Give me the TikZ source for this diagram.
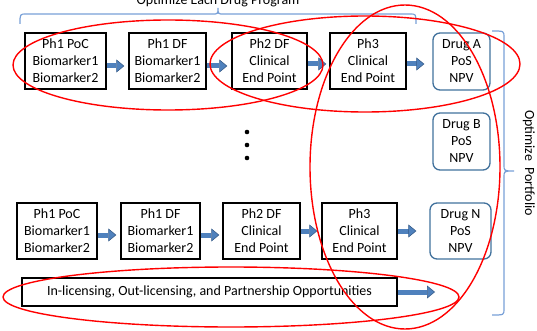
\documentclass[tikz,border=0pt]{standalone}
\usepackage{fontspec}
\setmainfont{Carlito}
\usetikzlibrary{arrows.meta}
\definecolor{arrowfill}{RGB}{79,129,189}
\definecolor{arrowedge}{RGB}{56,93,138}
\definecolor{drugedge}{RGB}{65,113,156}
\definecolor{bracecol}{RGB}{120,160,215}
\begin{document}
\begin{tikzpicture}[x=1pt,y=-1pt,
  every node/.style={font=\fontsize{14}{17}\selectfont},
  stagebox/.style={draw=black, line width=1.4pt, align=center, minimum height=56pt, inner sep=0pt},
  drugbox/.style={draw=drugedge, line width=1.3pt, rounded corners=7pt, align=center, minimum width=57pt, minimum height=57pt, inner sep=0pt},
  fatarrow/.style={draw=arrowfill, line width=5pt, -{Triangle[length=8pt,width=13pt,color=arrowedge,fill=arrowfill,line width=0.6pt]}},
  ring/.style={draw=red, line width=1.4pt},
  bracepath/.style={draw=bracecol, line width=1.2pt}]
\useasboundingbox (0,0) rectangle (537,331);

% top row
\node[stagebox, minimum width=81pt] (a1) at (65.5,61) {Ph1 PoC\\Biomarker1\\Biomarker2};
\node[stagebox, minimum width=77pt] (a2) at (167.5,61) {Ph1 DF\\Biomarker1\\Biomarker2};
\node[stagebox, minimum width=75pt] (a3) at (269.5,61) {Ph2 DF\\Clinical\\End Point};
\node[stagebox, minimum width=76pt] (a4) at (368,61) {Ph3\\Clinical\\End Point};
\node[drugbox] (da) at (461.5,61.5) {Drug A\\PoS\\NPV};

% middle
\node[drugbox] (db) at (461.5,141.5) {Drug B\\PoS\\NPV};
\node[circle, fill=black, inner sep=0pt, minimum size=4.6pt] (d1) at (247,132) {};
\node[circle, fill=black, inner sep=0pt, minimum size=4.6pt] (d2) at (247,145) {};
\node[circle, fill=black, inner sep=0pt, minimum size=4.6pt] (d3) at (247,158) {};

% bottom row
\node[stagebox, minimum width=80pt] (b1) at (57,231) {Ph1 PoC\\Biomarker1\\Biomarker2};
\node[stagebox, minimum width=79pt] (b2) at (160.5,231) {Ph1 DF\\Biomarker1\\Biomarker2};
\node[stagebox, minimum width=77pt] (b3) at (261.5,231) {Ph2 DF\\Clinical\\End Point};
\node[stagebox, minimum width=75pt] (b4) at (359.5,231) {Ph3\\Clinical\\End Point};
\node[drugbox, minimum width=61pt, minimum height=56pt] (dn) at (460.5,231) {Drug N\\PoS\\NPV};

% licensing
\node[stagebox, minimum width=375pt, minimum height=28pt] (lic) at (209.5,292) {In-licensing, Out-licensing, and Partnership Opportunities};
\coordinate (licend) at (435,292);

% arrows
\draw[fatarrow, shorten >=4pt] ([yshift=-5pt]a1.east) -- ([yshift=-5pt]a2.west);
\draw[fatarrow, shorten >=4pt] ([yshift=-5pt]a2.east) -- ([yshift=-5pt]a3.west);
\draw[fatarrow, shorten >=3pt] ([yshift=-3pt]a3.east) -- ([yshift=-3pt]a4.west);
\draw[fatarrow, shorten >=8pt] ([yshift=-3pt]a4.east) -- ([yshift=-2.5pt]da.west);
\draw[fatarrow, shorten >=4pt] ([yshift=-4pt]b1.east) -- ([yshift=-4pt]b2.west);
\draw[fatarrow, shorten >=3pt] ([yshift=-4pt]b2.east) -- ([yshift=-4pt]b3.west);
\draw[fatarrow, shorten >=4pt] ([yshift=0pt]b3.east) -- ([yshift=0pt]b4.west);
\draw[fatarrow, shorten >=13pt] (b4.east) -- (dn.west);
\draw[fatarrow] (lic.east) -- (licend);

% braces and labels
\node[anchor=base, inner sep=0pt] (title) at (218,5) {Optimize Each Drug Program};
\draw[bracepath] (20,24) .. controls (20,14) .. (26,14) -- (212,14) .. controls (218,14) .. (218,8) .. controls (218,14) .. (224,14) -- (410,14) .. controls (416,14) .. (416,24);
\draw[bracepath] (492,31) .. controls (504,31) .. (504,37) -- (504,165) .. controls (504,171) .. (514,171) .. controls (504,171) .. (504,177) -- (504,309) .. controls (504,315) .. (492,315);
\node[rotate=-90, anchor=base west, inner sep=0pt] (port) at (525,110) {Optimize\ \ Portfolio};

% red rings
\draw[ring] (168,65) ellipse [x radius=155pt, y radius=45pt];
\draw[ring] (365,64) ellipse [x radius=155pt, y radius=48pt];
\draw[ring] (405,167) ellipse [x radius=95pt, y radius=162pt];
\draw[ring] (231,297) ellipse [x radius=228pt, y radius=30pt];
\end{tikzpicture}
\end{document}
